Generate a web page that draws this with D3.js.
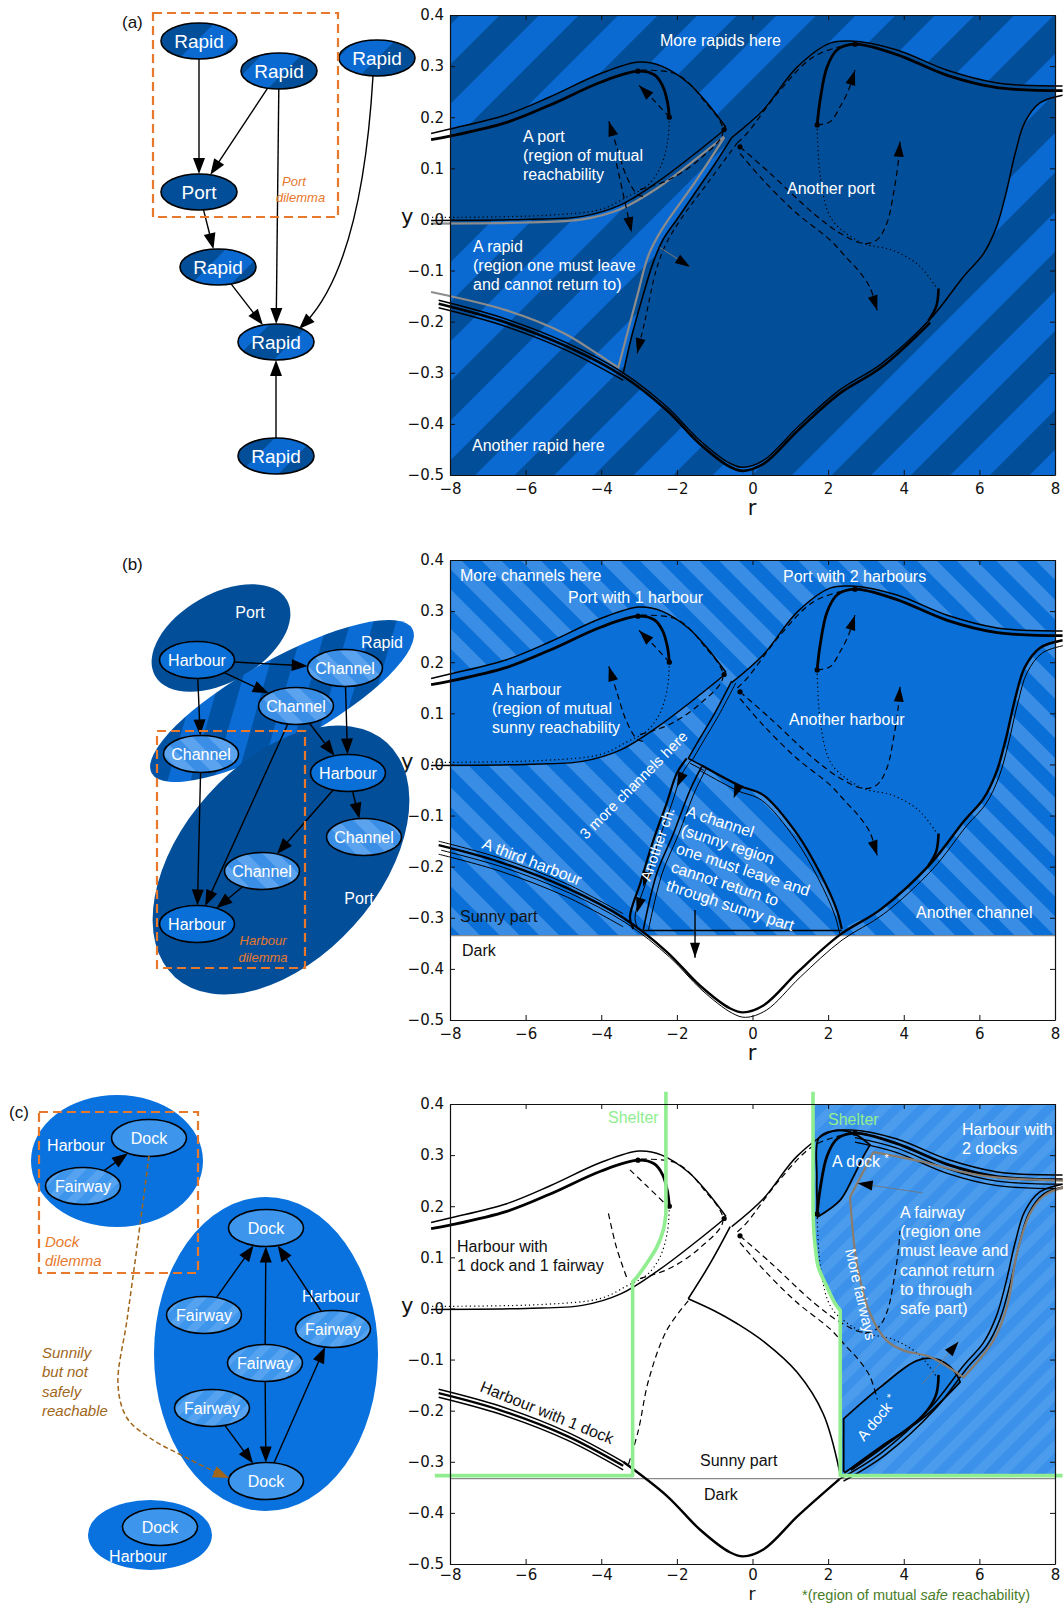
<!DOCTYPE html>
<html>
<head>
<meta charset="utf-8">
<script src="https://cdn.jsdelivr.net/npm/d3@7"></script>
<style>
  body { margin: 0; background: #fff; }
  svg { display: block; }
</style>
</head>
<body>
<svg id="fig" width="1063" height="1604"></svg>
<script>
// ---------------- axis values ----------------
const rTicks = [-8, -6, -4, -2, 0, 2, 4, 6, 8];
const yTicks = [0.4, 0.3, 0.2, 0.1, 0.0, -0.1, -0.2, -0.3, -0.4, -0.5];
const rDomain = [-8, 8];
const yDomain = [-0.5, 0.4];
const sunnyLevel = -0.335;

// ---------------- flow curves, (r, y) ----------------
const lobeOuter = [[-8.5,0.168],[-8,0.177],[-6.5,0.205],[-5.35,0.24],[-4,0.286],[-3.0,0.308],[-2.4,0.3],[-1.7,0.267],[-1.2,0.228],[-0.7,0.18]];
const lobeInner = [[-8.5,0.156],[-8,0.163],[-6.5,0.19],[-5.35,0.224],[-4,0.269],[-3.03,0.29],[-2.6,0.283],[-2.38,0.262],[-2.25,0.23],[-2.2,0.2]];
const lobeLower = [[-8.5,-0.002],[-6,0.0],[-4.5,0.006],[-3.5,0.028],[-2.5,0.074],[-1.5,0.13],[-0.7,0.178]];
const lobeDotted = [[-2.2,0.2],[-2.25,0.15],[-2.45,0.1],[-2.8,0.065],[-3.3,0.045],[-4,0.02],[-5.5,0.008],[-8.5,0.004]];
const lobeLoopDash = [[-2.95,0.292],[-2.0,0.284],[-1.3,0.234],[-0.78,0.172],[-1.4,0.118],[-2.2,0.078],[-3.0,0.058]];
const dashL1 = [[-2.2,0.2],[-2.62,0.234],[-3.0,0.262]];
const dashL2 = [[-2.9,0.045],[-3.06,0.05],[-3.33,0.084],[-3.59,0.142],[-3.8,0.192]];
const dashL3 = [[-3.6,0.11],[-3.42,0.05],[-3.2,-0.025]];

const stemA = [[-0.55,0.16],[-1.0,0.108],[-1.4,0.065],[-2.0,0.0],[-2.37,-0.04],[-2.63,-0.085],[-2.9,-0.15],[-3.2,-0.23],[-3.42,-0.302]];
const stemDash = [[-0.4,0.15],[-1.2,0.07],[-1.9,0.0],[-2.3,-0.05],[-2.55,-0.1],[-2.85,-0.2],[-3.05,-0.262]];
const grayStem = [[-0.75,0.16],[-1.5,0.075],[-2.4,-0.02],[-2.75,-0.07],[-3.05,-0.15],[-3.55,-0.29]];
const grayBottom = [[-8.5,-0.142],[-6.5,-0.178],[-5,-0.222],[-4.2,-0.258],[-3.55,-0.29]];
const grayLobe = [[-8.5,-0.008],[-6,-0.006],[-4.5,0.0],[-3.5,0.02],[-2.5,0.062],[-1.5,0.118],[-0.75,0.162]];
const grayPointer = [[-2.45,-0.055],[-1.65,-0.093]];

const bottomLeft = [[-8.3,-0.158],[-6.68,-0.191],[-4.9,-0.242],[-3.42,-0.30]];
const bottomMid = [[-3.42,-0.30],[-2.26,-0.367],[-1.4,-0.432],[-0.6,-0.477],[-0.25,-0.485],[0.3,-0.471],[1.2,-0.406],[2.3,-0.334]];
const bottomRight = [[2.3,-0.334],[3.4,-0.283],[4.7,-0.195],[5.6,-0.11],[6.1,-0.068],[6.45,-0.015],[6.7,0.05],[6.95,0.13],[7.2,0.19],[7.6,0.228],[8.2,0.243]];
const bottomCurve = bottomLeft.concat(bottomMid.slice(1), bottomRight.slice(1));
const thickLow = [[4.92,-0.135],[4.86,-0.17],[4.65,-0.198]];

const rightTopOuter = [[-0.55,0.16],[0.28,0.214],[1.18,0.298],[2.05,0.345],[2.6,0.349],[3.8,0.332],[5.15,0.292],[6.47,0.267],[7.03,0.263],[8.2,0.261]];
const rightTopInner = [[1.71,0.185],[1.79,0.234],[1.97,0.298],[2.24,0.332],[2.71,0.343],[3.8,0.323],[5.15,0.282],[6.47,0.258],[8.2,0.252]];
const rightTopTail = [[2.71,0.343],[3.8,0.323],[5.15,0.282],[6.47,0.258],[8.2,0.252]];
const rightDotted = [[1.71,0.185],[1.8,0.08],[2.1,0.0],[2.9,-0.046],[3.7,-0.06],[4.4,-0.09],[4.88,-0.135]];
const dashA1 = [[-0.33,0.142],[0.47,0.09],[1.61,0.012],[2.32,-0.027],[2.93,-0.047],[3.29,-0.04],[3.55,-0.008],[3.73,0.051],[3.86,0.116],[3.9,0.152]];
const dashA2 = [[-0.33,0.129],[0.28,0.077],[1.17,0.012],[2.05,-0.04],[2.5,-0.076],[2.8,-0.1],[3.1,-0.132],[3.3,-0.178]];
const dashA3 = [[1.71,0.185],[2.05,0.191],[2.32,0.221],[2.54,0.253],[2.71,0.292]];
const dashA4 = [[-0.4,0.15],[-0.15,0.168],[0.73,0.253],[1.61,0.318],[2.49,0.341],[2.71,0.343]];

// panel (b): channels cut out below the second harbour
const stemB = [[-0.55,0.163],[-1.0,0.1],[-1.4,0.05],[-1.7,0.012]];
const chGap = [[-1.7,0.012],[-1.34,-0.002]];
const chLeft = [[-1.74,0.012],[-2.0,-0.017],[-2.27,-0.076],[-2.62,-0.148],[-2.97,-0.233],[-3.24,-0.298],[-3.15,-0.322]];
const chRight = [[-1.34,-0.004],[-1.65,-0.05],[-2.09,-0.135],[-2.53,-0.213],[-2.89,-0.324]];
const channelTop = [[-1.34,-0.002],[-0.9,-0.02],[-0.33,-0.042],[0.29,-0.06],[1.17,-0.135],[1.79,-0.213],[2.23,-0.285],[2.36,-0.322]];
const channelFloor = [[-2.89,-0.325],[2.36,-0.325]];
const fallArrow = [[-1.52,-0.285],[-1.52,-0.378]];

// panel (c): shelters, docks and the fairway
const stemC = [[-0.59,0.16],[-1.12,0.088],[-1.7,0.019]];
const kneeRight = [[-1.7,0.019],[-1.0,-0.005],[-0.4,-0.03],[0.3,-0.065],[1.18,-0.125],[1.87,-0.206],[2.3,-0.318]];
const kneeDash = [[-1.7,0.015],[-2.27,-0.043],[-2.75,-0.141],[-3.02,-0.239],[-3.28,-0.305]];
const lobeDashC1 = [[-3.81,0.186],[-3.6,0.12],[-3.33,0.061]];
const lobeDashC2 = [[-3.24,0.271],[-2.8,0.24],[-2.27,0.202]];
const shelterLeft = [
  [[-2.29,0.424],[-2.29,0.186]],
  [[-2.29,0.186],[-2.36,0.153],[-2.53,0.12],[-2.8,0.088],[-3.06,0.061],[-3.17,0.052]],
  [[-3.17,0.052],[-3.17,-0.327]],
  [[-3.17,-0.327],[-8.4,-0.327]]
];
const shelterRight = [
  [[1.6,0.424],[1.6,0.2]],
  [[1.6,0.2],[1.62,0.153],[1.66,0.12],[1.74,0.081],[1.97,0.042],[2.19,0.009],[2.32,-0.004]],
  [[2.32,-0.004],[2.32,-0.327]],
  [[2.32,-0.327],[8.2,-0.327]]
];
const dockUpper = [
  [[1.72,0.179],[1.7,0.26],[1.75,0.333],[2.1,0.347],[2.6,0.345],[3.11,0.32]],
  [[3.11,0.32],[2.93,0.297],[2.67,0.258],[2.32,0.212],[1.72,0.179]]
];
const dockLower = [
  [[2.41,-0.318],[2.41,-0.216]],
  [[2.41,-0.216],[3.38,-0.154],[4.35,-0.102],[4.87,-0.099],[5.32,-0.121],[5.49,-0.144]],
  [[5.49,-0.144],[4.5,-0.215],[3.4,-0.27],[2.45,-0.321]]
];
const dockLowerThick = [[4.92,-0.13],[4.85,-0.17],[4.5,-0.21],[3.5,-0.268],[2.6,-0.316]];
const fairwayEdge = [
  [[3.2,0.306],[4.5,0.287],[5.5,0.268],[6.5,0.256],[7.5,0.252],[8.25,0.25]],
  [[8.25,0.238],[7.7,0.22],[7.34,0.186],[6.99,0.107],[6.73,0.003],[6.37,-0.063],[5.58,-0.135]],
  [[5.58,-0.135],[4.7,-0.095],[3.99,-0.082],[3.55,-0.063],[3.11,-0.01],[2.76,0.088],[2.58,0.218]],
  [[2.58,0.218],[3.2,0.306]]
];
const pointerC1 = [[4.5,0.226],[2.78,0.245]];
const pointerC2 = [[4.5,-0.147],[5.45,-0.065]];

// ---------------- diagram graphs ----------------
const labelsA = ["Rapid", "Rapid", "Rapid", "Port", "Rapid", "Rapid", "Rapid"];
const edgesA = [[0,3],[1,3],[1,5],[3,4],[4,5],[6,5]];
const labelsB = ["Harbour", "Channel", "Channel", "Channel", "Harbour", "Channel", "Channel", "Harbour"];
const edgesB = [[0,1],[0,2],[0,3],[1,4],[2,4],[2,7],[3,7],[4,5],[4,6],[6,7]];
const groupsB = ["Port", "Rapid", "Port"];
const labelsC = ["Dock", "Fairway", "Dock", "Fairway", "Fairway", "Fairway", "Fairway", "Dock", "Dock"];
const edgesC = [[1,0],[3,2],[5,2],[4,2],[5,7],[6,7],[7,4]];
const groupsC = ["Harbour", "Harbour", "Harbour"];

// ---------------- layout & style ----------------
const FONT = "'Liberation Sans', Arial, sans-serif";
const TICKFONT = "'DejaVu Sans', sans-serif";
const COL = {
  navy: "#034e98", blueA: "#0a6ad2",
  blueB: "#0a6fd6", lightB: "#3a8de4",
  blueC1: "#3c92ea", blueC2: "#4c9cee", dockC: "#1c7fe2",
  orange: "#e8782c", brown: "#a0661a", green: "#90ee90", foot: "#4a7d2a"
};
const PLOT = { left: 450, right: 1055, h: 460 };

const svg = d3.select("#fig");
const defs = svg.append("defs");

function stripes(id, period, angle, base, band) {
  const p = defs.append("pattern").attr("id", id).attr("patternUnits", "userSpaceOnUse")
    .attr("width", period).attr("height", period).attr("patternTransform", `rotate(${angle})`);
  p.append("rect").attr("width", period).attr("height", period).attr("fill", base);
  p.append("rect").attr("width", period / 2).attr("height", period).attr("fill", band);
}
stripes("stA", 56, 45, COL.navy, COL.blueA);
stripes("stB", 28, -45, COL.blueB, COL.lightB);
stripes("stC", 18, 45, COL.blueC1, COL.blueC2);
stripes("stCh", 22, -45, "#3a8ee6", "#5ba3ee");
stripes("stFw", 16, 45, "#3d95ec", "#55a3f0");
stripes("stRb", 44, 45, "#0053a4", "#0a6cd4");

function head(g, x, y, ang, len, w, col) {
  const c = Math.cos(ang), s = Math.sin(ang);
  const bx = x - len * c, by = y - len * s;
  g.append("path")
    .attr("d", `M${x},${y}L${bx - w / 2 * s},${by + w / 2 * c}L${bx + w / 2 * s},${by - w / 2 * c}Z`)
    .attr("fill", col);
}

function txt(g, s, x, y, o = {}) {
  const t = g.append("text").attr("x", x).attr("y", y)
    .attr("font-family", o.family || FONT).attr("font-size", o.size || 16)
    .attr("fill", o.fill || "#fff").attr("text-anchor", o.anchor || "start");
  if (o.italic) t.attr("font-style", "italic");
  if (o.rotate != null) t.attr("transform", `rotate(${o.rotate},${x},${y})`);
  t.text(s);
  return t;
}
function block(g, arr, x, y, dy, o) { arr.forEach((s, i) => txt(g, s, x, y + i * dy, o)); }

// ---------------- plot panels ----------------
function panel(key, top) {
  const bottom = top + PLOT.h;
  const x = d3.scaleLinear().domain(rDomain).range([PLOT.left, PLOT.right]);
  const y = d3.scaleLinear().domain(yDomain).range([bottom, top]);
  defs.append("clipPath").attr("id", "clip" + key).append("rect")
    .attr("x", PLOT.left).attr("y", top).attr("width", PLOT.right - PLOT.left).attr("height", PLOT.h);
  defs.append("clipPath").attr("id", "clipL" + key).append("rect")
    .attr("x", 428).attr("y", top).attr("width", 635).attr("height", PLOT.h);
  const g = svg.append("g");
  const fills = g.append("g").attr("clip-path", `url(#clip${key})`);
  const lines = g.append("g").attr("clip-path", `url(#clipL${key})`);
  const free = g.append("g");
  const line = d3.line().x(d => x(d[0])).y(d => y(d[1])).curve(d3.curveCatmullRom.alpha(0.5));
  return { key, g, fills, lines, free, x, y, line, top, bottom };
}
function chain(P, pieces, close) {
  return pieces.map((pc, i) => { const s = P.line(pc); return i ? "L" + s.slice(1) : s; }).join("") + (close ? "Z" : "");
}
function stroke(g, d, col, w, dash, tf) {
  const p = g.append("path").attr("d", d).attr("fill", "none").attr("stroke", col)
    .attr("stroke-width", w).attr("stroke-linejoin", "round");
  if (dash) p.attr("stroke-dasharray", dash);
  if (tf) p.attr("transform", tf);
  return p;
}
function arrowEnd(P, pts, g) {
  const n = pts.length, a = pts[n - 2], b = pts[n - 1];
  const x1 = P.x(a[0]), y1 = P.y(a[1]), x2 = P.x(b[0]), y2 = P.y(b[1]);
  head(g || P.lines, x2, y2, Math.atan2(y2 - y1, x2 - x1), 15, 10, "#000");
}
function arrowAt(P, pt, deg) {
  head(P.lines, P.x(pt[0]), P.y(pt[1]), deg * Math.PI / 180, 15, 10, "#000");
}
function dot(P, pt) {
  P.lines.append("circle").attr("cx", P.x(pt[0])).attr("cy", P.y(pt[1])).attr("r", 2.6).attr("fill", "#000");
}
function axes(P, rOpt) {
  const { g, x, y, top, bottom } = P;
  const o = Object.assign({ gap: 40, size: 21, pad: 8 }, rOpt || {});
  const ax = g.append("g");
  ax.append("g").attr("transform", `translate(0,${bottom})`)
    .call(d3.axisBottom(x).tickValues(rTicks).tickFormat(d3.format("d")).tickSizeInner(-5).tickSizeOuter(0).tickPadding(o.pad));
  ax.append("g").attr("transform", `translate(0,${top})`)
    .call(d3.axisTop(x).tickValues(rTicks).tickFormat("").tickSizeInner(-5).tickSizeOuter(0));
  ax.append("g").attr("transform", `translate(${PLOT.left},0)`)
    .call(d3.axisLeft(y).tickValues(yTicks).tickFormat(d3.format(".1f")).tickSizeInner(-5).tickSizeOuter(0).tickPadding(6));
  ax.append("g").attr("transform", `translate(${PLOT.right},0)`)
    .call(d3.axisRight(y).tickValues(yTicks).tickFormat("").tickSizeInner(-5).tickSizeOuter(0));
  ax.selectAll("path.domain").attr("stroke", "#111").attr("stroke-width", 1.2);
  ax.selectAll(".tick line").attr("stroke", "#111");
  ax.selectAll("text").attr("font-family", TICKFONT).attr("font-size", 15).attr("fill", "#111");
  txt(g, "y", 401, y(0) + 5, { family: TICKFONT, size: 21, fill: "#111" });
  txt(g, "r", 752, bottom + o.gap, { family: TICKFONT, size: o.size, fill: "#111", anchor: "middle" });
}

// common flow lines of the upper lobe and the right lobe
function lobeLines(P, col) {
  const L = P.lines;
  stroke(L, P.line(lobeOuter), col, 1.5);
  stroke(L, P.line(lobeInner), col, 2.8);
  stroke(L, P.line(lobeLower), col, 1.5);
  stroke(L, P.line(lobeDotted), col, 1.2, "1.2,3");
  stroke(L, P.line(lobeLoopDash), col, 1.2, "6,4");
  stroke(L, P.line(rightTopOuter), col, 1.5);
  stroke(L, P.line(rightTopInner), col, 2.8);
  stroke(L, P.line(rightDotted), col, 1.2, "1.2,3");
  stroke(L, P.line(dashA4), col, 1.2, "6,4");
  [[-3.03,0.29],[-2.2,0.2],[-0.75,0.176],[1.71,0.185],[2.71,0.343],[-0.33,0.142]].forEach(p => dot(P, p));
}

// ================= panel (a) =================
const A = panel("a", 15);
A.fills.append("rect").attr("x", PLOT.left).attr("y", A.top).attr("width", 605).attr("height", PLOT.h).attr("fill", "url(#stA)");
A.fills.append("path").attr("d", chain(A, [lobeOuter, lobeLower.slice().reverse().slice(1)], true)).attr("fill", COL.navy);
A.fills.append("path").attr("d", chain(A, [stemA, bottomMid.slice(1), bottomRight.slice(1), rightTopOuter.slice().reverse()], true)).attr("fill", COL.navy);
(function () {
  const L = A.lines;
  stroke(L, A.line(grayLobe), "#8c8c8c", 2.2);
  stroke(L, chain(A, [grayBottom, grayStem.slice().reverse()]), "#8c8c8c", 2.2);
  stroke(L, A.line(stemA), "#000", 1.6);
  stroke(L, A.line(stemDash), "#000", 1.1, "5,4");
  stroke(L, A.line(bottomCurve), "#000", 1.5);
  stroke(L, A.line(bottomCurve.filter(p => p[0] < 4.8)), "#000", 2.6, null, "translate(0,3.5)");
  stroke(L, A.line(bottomLeft), "#000", 1.5, null, "translate(0,7.5)");
  stroke(L, A.line(thickLow), "#000", 2.6);
  lobeLines(A, "#000");
  [dashL1, dashL2, dashL3, dashA1, dashA2, dashA3].forEach(d => { stroke(L, A.line(d), "#000", 1.2, "6,4"); arrowEnd(A, d); });
  arrowEnd(A, stemDash);
  stroke(L, A.line(grayPointer), "#7a7a7a", 1);
  arrowEnd(A, grayPointer);
  const o = { size: 16 };
  txt(A.free, "More rapids here", 660, 46, o);
  block(A.free, ["A port", "(region of mutual", "reachability"], 523, 142, 19, o);
  block(A.free, ["A rapid", "(region one must leave", "and cannot return to)"], 473, 252, 19, o);
  txt(A.free, "Another port", 787, 194, o);
  txt(A.free, "Another rapid here", 472, 451, o);
})();
axes(A);

// ================= panel (b) =================
const B = panel("b", 560);
B.fills.append("rect").attr("x", PLOT.left).attr("y", B.top).attr("width", 605).attr("height", PLOT.h).attr("fill", "url(#stB)");
B.fills.append("rect").attr("x", PLOT.left).attr("y", B.y(sunnyLevel)).attr("width", 605).attr("height", B.bottom - B.y(sunnyLevel)).attr("fill", "#fff");
B.fills.append("path").attr("d", chain(B, [lobeOuter, lobeLower.slice().reverse().slice(1)], true)).attr("fill", COL.blueB);
B.fills.append("path").attr("d", chain(B, [stemB, chGap, channelTop, bottomRight.slice(1), rightTopOuter.slice().reverse()], true)).attr("fill", COL.blueB);
(function () {
  const L = B.lines;
  stroke(L, `M${PLOT.left},${B.y(sunnyLevel)}H${PLOT.right}`, "#8a8a8a", 1.2);
  stroke(L, B.line(stemB), "#000", 1.5);
  stroke(L, B.line(stemB), "#000", 1.0, null, "translate(4,2)");
  stroke(L, B.line(chGap), "#000", 1.5);
  stroke(L, B.line(chGap), "#000", 1.0, null, "translate(2,5)");
  stroke(L, B.line(chLeft), "#000", 2.2);
  stroke(L, B.line(chLeft), "#000", 1.0, null, "translate(5,1)");
  stroke(L, B.line(chRight), "#000", 1.6);
  stroke(L, B.line(chRight), "#000", 1.0, null, "translate(5,1)");
  stroke(L, B.line(channelTop), "#000", 2.2);
  stroke(L, B.line(channelTop), "#000", 1.0, null, "translate(-2,5)");
  stroke(L, B.line(channelFloor), "#000", 1.5);
  stroke(L, B.line(bottomCurve), "#000", 2.4);
  stroke(L, B.line(bottomCurve), "#000", 1.0, null, "translate(2.5,5)");
  stroke(L, B.line(bottomLeft), "#000", 1.0, null, "translate(0,-4)");
  stroke(L, B.line(bottomLeft), "#000", 1.0, null, "translate(0,9)");
  stroke(L, B.line(thickLow), "#000", 2.6);
  lobeLines(B, "#000");
  [dashL1, dashL2, dashA1, dashA2, dashA3].forEach(d => { stroke(L, B.line(d), "#000", 1.2, "6,4"); arrowEnd(B, d); });
  stroke(L, B.line(fallArrow), "#000", 1.4);
  arrowEnd(B, fallArrow);
  arrowAt(B, [-2.0, -0.044], 114);
  arrowAt(B, [-0.5, -0.066], 112);
  arrowAt(B, [-2.89, -0.239], 106);
  arrowAt(B, [-3.06, -0.29], 106);
  const o = { size: 16 };
  txt(B.free, "More channels here", 460, 581, o);
  txt(B.free, "Port with 1 harbour", 568, 603, o);
  block(B.free, ["A harbour", "(region of mutual", "sunny reachability"], 492, 695, 19, o);
  txt(B.free, "Port with 2 harbours", 783, 582, o);
  txt(B.free, "Another harbour", 789, 725, o);
  txt(B.free, "Another channel", 916, 918, o);
  txt(B.free, "3 more channels here", 586, 840, { size: 15, rotate: -45 });
  txt(B.free, "Another ch.", 650, 882, { size: 15, rotate: -71 });
  txt(B.free, "A third harbour", 481, 848, { size: 16, rotate: 21 });
  const chLines = ["A channel", "(sunny region", "one must leave and", "cannot return to", "through sunny part"];
  chLines.forEach((s, i) => txt(B.free, s, 685 - 5 * i, 816 + 18.5 * i, { size: 16, rotate: 18 }));
  txt(B.free, "Sunny part", 460, 922, { fill: "#111" });
  txt(B.free, "Dark", 462, 956, { fill: "#111" });
})();
axes(B);

// ================= panel (c) =================
const Cp = panel("c", 1104);
Cp.fills.append("path").attr("d", chain(Cp, shelterRight.concat([[[8.2,-0.327],[8.4,-0.327],[8.4,0.45],[1.6,0.45],[1.6,0.424]]]), true)).attr("fill", "url(#stC)");
Cp.fills.append("path").attr("d", chain(Cp, dockUpper, true)).attr("fill", COL.dockC);
Cp.fills.append("path").attr("d", chain(Cp, dockLower, true)).attr("fill", COL.dockC);
(function () {
  const L = Cp.lines;
  stroke(L, `M${PLOT.left},${Cp.y(-0.333)}H${PLOT.right}`, "#8a8a8a", 1.2);
  lobeLines(Cp, "#000");
  stroke(L, Cp.line(stemC), "#000", 1.6);
  stroke(L, Cp.line(kneeRight), "#000", 1.6);
  stroke(L, Cp.line(kneeDash), "#000", 1.2, "6,4");
  stroke(L, Cp.line(lobeDashC1), "#000", 1.2, "6,4");
  stroke(L, Cp.line(lobeDashC2), "#000", 1.2, "6,4");
  stroke(L, Cp.line(dashA1), "#000", 1.2, "6,4");
  stroke(L, Cp.line(dashA2), "#000", 1.2, "6,4");
  stroke(L, Cp.line(bottomLeft), "#000", 1.5);
  stroke(L, Cp.line(bottomLeft), "#000", 2.4, null, "translate(0,4)");
  stroke(L, Cp.line(bottomLeft), "#000", 1.5, null, "translate(0,8)");
  stroke(L, Cp.line(bottomMid), "#000", 2.4);
  stroke(L, Cp.line(bottomRight), "#000", 1.5);
  stroke(L, Cp.line(bottomRight), "#000", 1.5, null, "translate(4,2)");
  stroke(L, Cp.line(rightTopTail), "#000", 1.3, null, "translate(0,4.5)");
  stroke(L, Cp.line(rightTopTail), "#000", 1.3, null, "translate(0,9)");
  stroke(L, chain(Cp, dockUpper, true), "#000", 1.8);
  stroke(L, chain(Cp, dockLower, true), "#000", 1.8);
  stroke(L, Cp.line(dockLowerThick), "#000", 2.6);
  stroke(L, chain(Cp, fairwayEdge, false), "#8a7c6c", 2.2);
  stroke(L, Cp.line(pointerC1), "#6a7a8a", 1);
  arrowEnd(Cp, pointerC1);
  stroke(L, Cp.line(pointerC2), "#6a7a8a", 1);
  arrowEnd(Cp, pointerC2);
  // shelters, drawn past the frame
  stroke(Cp.free, chain(Cp, shelterLeft, false), COL.green, 3.6);
  stroke(Cp.free, chain(Cp, shelterRight, false), COL.green, 3.6);

  txt(Cp.free, "Shelter", 608, 1123, { fill: COL.green });
  txt(Cp.free, "Shelter", 828, 1125, { fill: COL.green });
  block(Cp.free, ["Harbour with", "1 dock and 1 fairway"], 457, 1252, 19, { fill: "#111" });
  txt(Cp.free, "Harbour with 1 dock", 479, 1391, { fill: "#111", rotate: 22 });
  txt(Cp.free, "Sunny part", 700, 1466, { fill: "#111" });
  txt(Cp.free, "Dark", 704, 1500, { fill: "#111" });
  block(Cp.free, ["Harbour with", "2 docks"], 962, 1135, 19, {});
  const d1 = txt(Cp.free, "A dock ", 832, 1167, {});
  d1.append("tspan").attr("font-size", 11).attr("dy", -5).text("*");
  block(Cp.free, ["A fairway", "(region one", "must leave and", "cannot return", "to through", "safe part)"], 900, 1218, 19.2, {});
  txt(Cp.free, "More fairways", 845, 1250, { size: 15, rotate: 77 });
  const d2 = txt(Cp.free, "A dock ", 864, 1442, { size: 15, rotate: -50 });
  d2.append("tspan").attr("font-size", 11).attr("dy", -5).text("*");
  const f = txt(Cp.free, "*(region of mutual ", 802, 1600, { fill: COL.foot, size: 14.5 });
  f.append("tspan").attr("font-style", "italic").text("safe");
  f.append("tspan").text(" reachability)");
})();
axes(Cp, { gap: 36, size: 17, pad: 5 });

// ---------------- graph diagrams ----------------
const NRX = 38, NRY = 18;
function bound(c, rx, ry, dx, dy) {
  const t = 1 / Math.sqrt((dx / rx) ** 2 + (dy / ry) ** 2);
  return [c[0] + dx * t, c[1] + dy * t];
}
function edge(g, p, q, rx, ry) {
  const dx = q[0] - p[0], dy = q[1] - p[1];
  const s = bound(p, rx, ry, dx, dy), e = bound(q, rx, ry, -dx, -dy);
  const len = Math.hypot(e[0] - s[0], e[1] - s[1]);
  const ux = (e[0] - s[0]) / len, uy = (e[1] - s[1]) / len;
  g.append("line").attr("x1", s[0]).attr("y1", s[1]).attr("x2", e[0] - ux * 13).attr("y2", e[1] - uy * 13)
    .attr("stroke", "#000").attr("stroke-width", 1.4);
  head(g, e[0], e[1], Math.atan2(uy, ux), 16, 12, "#000");
}
function node(g, c, label, fill, size, rx, ry) {
  g.append("ellipse").attr("cx", c[0]).attr("cy", c[1]).attr("rx", rx).attr("ry", ry)
    .attr("fill", fill).attr("stroke", "#000").attr("stroke-width", 1.6);
  txt(g, label, c[0], c[1] + size * 0.36, { size, anchor: "middle" });
}
function dashedBox(g, x0, y0, x1, y1) {
  g.append("rect").attr("x", x0).attr("y", y0).attr("width", x1 - x0).attr("height", y1 - y0)
    .attr("fill", "none").attr("stroke", COL.orange).attr("stroke-width", 2.2).attr("stroke-dasharray", "9,5");
}

// (a)
(function () {
  const g = svg.append("g");
  const pos = [[199,41],[279,71],[377,58],[199,192],[218,267],[276,342],[276,456]];
  txt(g, "(a)", 122, 28, { size: 17, fill: "#111" });
  labelsA.forEach((l, i) => node(g, pos[i], l, l === "Port" ? COL.navy : "url(#stA)", 19, NRX, NRY));
  edgesA.forEach(([a, b]) => edge(g, pos[a], pos[b], NRX, NRY));
  // long bent edge from the right-hand rapid
  const bent = d3.path();
  bent.moveTo(373, 76); bent.quadraticCurveTo(362, 262, 306, 322);
  g.append("path").attr("d", bent.toString()).attr("fill", "none").attr("stroke", "#000").attr("stroke-width", 1.4);
  head(g, 299, 329, Math.atan2(7, -7), 16, 12, "#000");
  dashedBox(g, 153, 13, 338, 217);
  txt(g, "Port", 282, 186, { size: 13, fill: COL.orange, italic: true });
  txt(g, "dilemma", 276, 202, { size: 13, fill: COL.orange, italic: true });
})();

// (b)
(function () {
  const g = svg.append("g");
  txt(g, "(b)", 122, 570, { size: 17, fill: "#111" });
  const big = [
    { cx: 221, cy: 638, rx: 76, ry: 44, rot: -30, fill: COL.navy, lx: 250, ly: 612 },
    { cx: 282, cy: 701, rx: 149, ry: 42, rot: -29, fill: "url(#stRb)", lx: 382, ly: 642 },
    { cx: 281, cy: 860, rx: 158, ry: 98, rot: -48, fill: COL.navy, lx: 359, ly: 898 }
  ];
  big.forEach(b => {
    g.append("ellipse").attr("cx", 0).attr("cy", 0).attr("rx", b.rx).attr("ry", b.ry)
      .attr("transform", `translate(${b.cx},${b.cy}) rotate(${b.rot})`).attr("fill", b.fill);
  });
  big.forEach((b, i) => txt(g, groupsB[i], b.lx, b.ly + 6, { size: 16, anchor: "middle" }));
  const pos = [[197,660],[345,668],[296,706],[201,754],[348,773],[364,837],[262,871],[197,924]];
  labelsB.forEach((l, i) => node(g, pos[i], l, l === "Harbour" ? COL.blueB : "url(#stCh)", 16, 37.5, 18.5));
  edgesB.forEach(([a, b]) => edge(g, pos[a], pos[b], 37.5, 18.5));
  dashedBox(g, 157, 731, 305, 968);
  txt(g, "Harbour", 263, 945, { size: 13, fill: COL.orange, italic: true, anchor: "middle" });
  txt(g, "dilemma", 263, 962, { size: 13, fill: COL.orange, italic: true, anchor: "middle" });
})();

// (c)
(function () {
  const g = svg.append("g");
  txt(g, "(c)", 9, 1118, { size: 17, fill: "#111" });
  const big = [
    { cx: 117, cy: 1161, rx: 86, ry: 66, lx: 76, ly: 1145 },
    { cx: 266, cy: 1354, rx: 112, ry: 157, lx: 331, ly: 1296 },
    { cx: 150, cy: 1535, rx: 62, ry: 35, lx: 138, ly: 1556 }
  ];
  big.forEach(b => g.append("ellipse").attr("cx", b.cx).attr("cy", b.cy).attr("rx", b.rx).attr("ry", b.ry).attr("fill", "#0a72de"));
  big.forEach((b, i) => txt(g, groupsC[i], b.lx, b.ly + 6, { size: 16, anchor: "middle" }));
  const pos = [[149,1138],[83,1186],[266,1228],[204,1315],[333,1329],[265,1363],[212,1408],[266,1481],[160,1527]];
  labelsC.forEach((l, i) => node(g, pos[i], l, l === "Dock" ? "#3d95ec" : "url(#stFw)", 16, 37.5, 18.5));
  edgesC.forEach(([a, b]) => edge(g, pos[a], pos[b], 37.5, 18.5));
  dashedBox(g, 39, 1112, 198, 1273);
  txt(g, "Dock", 45, 1247, { size: 15, fill: COL.orange, italic: true });
  txt(g, "dilemma", 45, 1266, { size: 15, fill: COL.orange, italic: true });
  // sunny but unsafe connection
  const route = [[149,1156],[138,1240],[127,1320],[118,1385],[127,1418],[150,1438],[187,1458],[215,1472]];
  g.append("path").attr("d", d3.line().curve(d3.curveCatmullRom)(route)).attr("fill", "none")
    .attr("stroke", COL.brown).attr("stroke-width", 1.5).attr("stroke-dasharray", "5,3");
  head(g, 229, 1478, Math.atan2(6, 14), 16, 12, COL.brown);
  block(g, ["Sunnily", "but not", "safely", "reachable"], 42, 1358, 19.3, { size: 15, fill: COL.brown, italic: true });
})();
</script>
</body>
</html>
